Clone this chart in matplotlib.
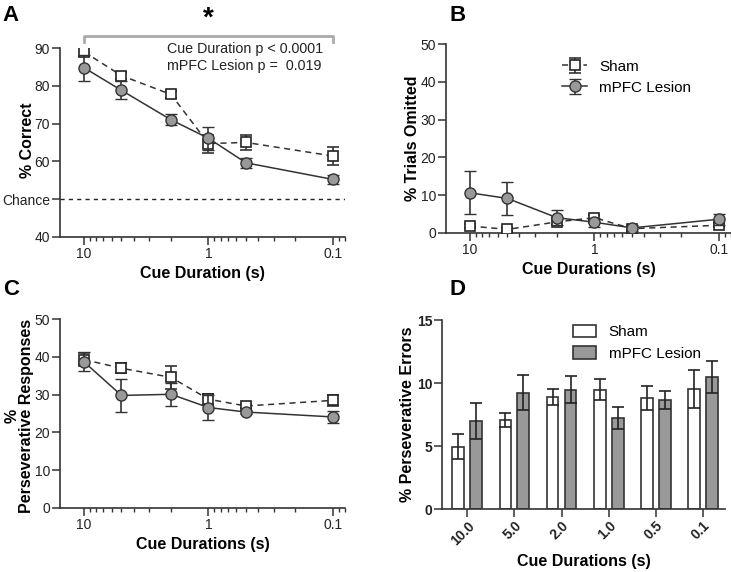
import numpy as np
import matplotlib
matplotlib.use('Agg')
from matplotlib import pyplot as plt

plt.rcParams['font.family'] = ['Liberation Sans', 'DejaVu Sans']

durations = [10, 5, 2, 1, 0.5, 0.1]
dur_labels = ['10.0', '5.0', '2.0', '1.0', '0.5', '0.1']

# A - % correct
a_sham = [89.0, 82.7, 77.7, 64.7, 65.0, 61.4]
a_sham_err = [1.2, 1.0, 0.8, 2.4, 2.0, 2.4]
a_les = [84.8, 78.8, 71.0, 66.1, 59.6, 55.2]
a_les_err = [3.4, 2.4, 1.4, 3.0, 1.3, 1.1]

# B - % trials omitted
b_sham = [1.8, 0.9, 2.9, 4.0, 1.1, 2.0]
b_sham_err = [0.5, 0.5, 0.8, 0.7, 0.5, 0.5]
b_les = [10.6, 9.1, 4.0, 2.8, 1.3, 3.6]
b_les_err = [5.7, 4.4, 2.0, 1.2, 0.7, 1.5]

# C - % perseverative responses
c_sham = [39.3, 37.0, 34.6, 28.8, 27.0, 28.5]
c_sham_err = [1.7, 1.3, 3.0, 1.5, 0.5, 1.5]
c_les = [38.7, 29.8, 30.1, 26.6, 25.4, 24.1]
c_les_err = [2.5, 4.3, 3.0, 3.4, 0.5, 1.7]

# D - % perseverative errors
d_sham = [4.95, 7.1, 8.9, 9.5, 8.85, 9.55]
d_sham_err = [1.0, 0.55, 0.65, 0.85, 0.95, 1.5]
d_les = [7.0, 9.25, 9.5, 7.25, 8.65, 10.5]
d_les_err = [1.4, 1.4, 1.1, 0.9, 0.7, 1.3]

lc = '#333333'
gray = '#999999'

fig = plt.figure(figsize=(7.31, 5.72), dpi=100)


def style(ax):
    ax.spines['top'].set_visible(False)
    ax.spines['right'].set_visible(False)
    for s in ['left', 'bottom']:
        ax.spines[s].set_color(lc)
        ax.spines[s].set_linewidth(1.2)
    ax.tick_params(which='major', direction='out', length=5.5, width=1.1,
                   color=lc, labelsize=10, labelcolor='#222222', pad=1.5)
    ax.tick_params(which='minor', direction='out', length=3, width=1.0, color=lc)


def line_panel(ax, sham, sham_err, les, les_err):
    ax.errorbar(durations, sham, yerr=sham_err, color=lc, ls=(0, (4, 3)), lw=1.1,
                marker='s', ms=7, mfc='white', mec='#222222', mew=1.2,
                capsize=4, elinewidth=1.2, capthick=1.2, label='Sham', zorder=3)
    ax.errorbar(durations, les, yerr=les_err, color=lc, ls='-', lw=1.1,
                marker='o', ms=8, mfc=gray, mec='#333333', mew=1.0,
                capsize=4, elinewidth=1.2, capthick=1.2, label='mPFC Lesion', zorder=4)
    ax.set_xscale('log')
    ax.set_xlim(15.6, 0.08)
    ax.set_xticks([10, 1, 0.1])
    ax.set_xticklabels(['10', '1', '0.1'])
    style(ax)


lab_kw = dict(fontsize=11.5, fontweight='bold')

# Panel A
axA = fig.add_axes([0.082, 0.586, 0.39, 0.330])
line_panel(axA, a_sham, a_sham_err, a_les, a_les_err)
axA.axhline(50, color='#222222', ls=(0, (3, 3)), lw=1.0)
axA.set_ylim(40, 90)
axA.set_yticks([40, 50, 60, 70, 80, 90])
axA.set_yticklabels(['40', 'Chance', '60', '70', '80', '90'])
axA.set_ylabel('% Correct', **lab_kw)
axA.yaxis.set_label_coords(-0.088, 0.51)
axA.set_xlabel('Cue Duration (s)', labelpad=4, **lab_kw)
axA.text(0.375, 1.03, 'Cue Duration p < 0.0001\nmPFC Lesion p =  0.019',
         transform=axA.transAxes, fontsize=10.3, va='top', ha='left',
         color='#222222', linespacing=1.2)
axA.plot([10, 10, 0.1, 0.1], [91.5, 93.2, 93.2, 91.5], color='#aaaaaa', lw=2,
         clip_on=False)
axA.text(1, 94.3, '*', fontsize=20, fontweight='bold', ha='center', va='bottom')

# Panel B
axB = fig.add_axes([0.610, 0.593, 0.39, 0.330])
line_panel(axB, b_sham, b_sham_err, b_les, b_les_err)
axB.set_ylim(0, 50)
axB.set_yticks([0, 10, 20, 30, 40, 50])
axB.set_ylabel('% Trials Omitted', **lab_kw)
axB.yaxis.set_label_coords(-0.092, 0.5)
axB.set_xlabel('Cue Durations (s)', labelpad=4, **lab_kw)
axB.legend(loc='upper left', bbox_to_anchor=(0.36, 0.99), frameon=False,
           fontsize=11, handlelength=1.6, handletextpad=0.8, labelspacing=0.45)

# Panel C
axC = fig.add_axes([0.082, 0.112, 0.39, 0.330])
line_panel(axC, c_sham, c_sham_err, c_les, c_les_err)
axC.set_ylim(0, 50)
axC.set_yticks([0, 10, 20, 30, 40, 50])
axC.set_ylabel('%\nPerseverative Responses', linespacing=0.95, **lab_kw)
axC.yaxis.set_label_coords(-0.092, 0.49)
axC.set_xlabel('Cue Durations (s)', labelpad=4, **lab_kw)

# Panel D
axD = fig.add_axes([0.605, 0.110, 0.387, 0.330])
x = np.arange(len(durations))
w = 0.25
axD.bar(x - 0.19, d_sham, w, yerr=d_sham_err, color='white', edgecolor='#333333',
        linewidth=1.2, capsize=4, error_kw=dict(elinewidth=1.2, capthick=1.2,
        ecolor='#222222'), label='Sham')
axD.bar(x + 0.19, d_les, w, yerr=d_les_err, color=gray, edgecolor='#333333',
        linewidth=1.2, capsize=4, error_kw=dict(elinewidth=1.2, capthick=1.2,
        ecolor='#222222'), label='mPFC Lesion')
axD.set_xlim(-0.53, 5.47)
axD.set_ylim(0, 15)
axD.set_yticks([0, 5, 10, 15])
axD.set_xticks(x)
axD.set_xticklabels(dur_labels, rotation=45, ha='right', rotation_mode='anchor',
                    fontweight='bold')
for lab in axD.get_yticklabels():
    lab.set_fontweight('bold')
style(axD)
axD.set_ylabel('% Perseverative Errors', **lab_kw)
axD.yaxis.set_label_coords(-0.098, 0.5)
axD.set_xlabel('Cue Durations (s)', labelpad=4, **lab_kw)
axD.legend(loc='upper left', bbox_to_anchor=(0.415, 1.05), frameon=False,
           fontsize=11, handlelength=1.5, handleheight=0.9, handletextpad=0.8,
           labelspacing=0.45)

# panel letters
for lab, xx, yy in [('A', 0.004, 0.955), ('B', 0.615, 0.955),
                    ('C', 0.004, 0.475), ('D', 0.615, 0.475)]:
    fig.text(xx, yy, lab, fontsize=16, fontweight='bold', ha='left', va='bottom')

fig.savefig('out.png', dpi=100)
